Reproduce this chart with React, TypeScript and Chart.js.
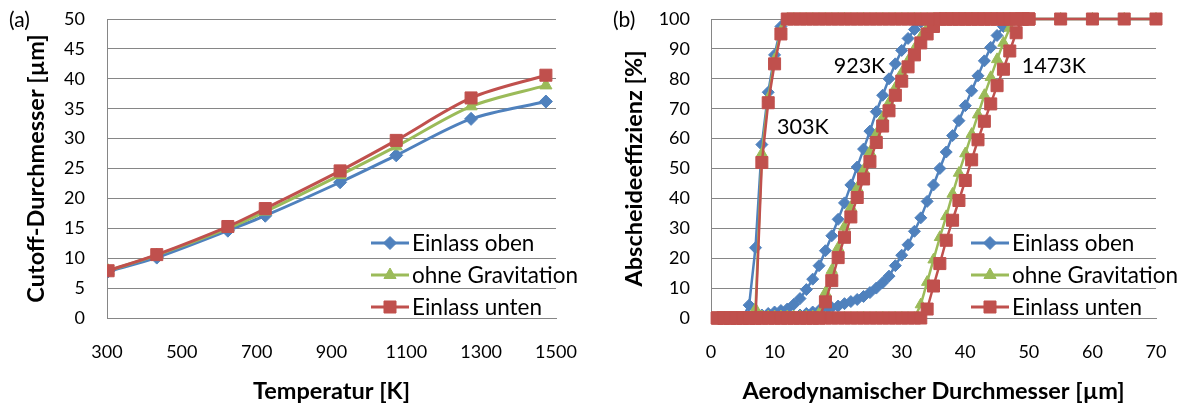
import React, { useEffect, useRef } from 'react';
import { Chart, registerables } from 'chart.js';

Chart.register(...registerables);

const FONT = 'Lato, "Open Sans", sans-serif';
const BLUE = '#4F81BD';
const GREEN = '#9BBB59';
const RED = '#C0504D';
const GRID = '#868686';
const TEXT = '#000000';

const SERIES_LABELS = ['Einlass oben', 'ohne Gravitation', 'Einlass unten'];

// ---------- Panel (a): cutoff diameter vs temperature ----------
const TEMPS_K = [303, 433, 623, 723, 923, 1073, 1273, 1473];
const CUTOFF_OBEN = [7.8, 10.1, 14.6, 17.1, 22.7, 27.2, 33.3, 36.2];
const CUTOFF_OHNE = [7.9, 10.5, 15.0, 17.8, 23.9, 28.7, 35.4, 38.9];
const CUTOFF_UNTEN = [7.9, 10.6, 15.3, 18.3, 24.6, 29.7, 36.8, 40.6];

// ---------- Panel (b): separation efficiency vs aerodynamic diameter ----------
const D_GRID = [
  1, 2, 3, 4, 5, 6, 7, 8, 9, 10,
  11, 12, 13, 14, 15, 16, 17, 18, 19, 20,
  21, 22, 23, 24, 25, 26, 27, 28, 29, 30,
  31, 32, 33, 34, 35, 36, 37, 38, 39, 40,
  41, 42, 43, 44, 45, 46, 47, 48, 49, 50,
];
const D_GRID_303 = [
  1, 2, 3, 4, 5, 6, 7, 8, 9, 10,
  11, 12, 13, 14, 15, 16, 17, 18, 19, 20,
  21, 22, 23, 24, 25, 26, 27, 28, 29, 30,
  31, 32, 33, 34, 35, 36, 37, 38, 39, 40,
  41, 42, 43, 44, 45, 46, 47, 48, 49, 50,
  55, 60, 65, 70,
];

const OBEN_303 = [
  0, 0, 0, 0, 0, 4.3, 23.5, 58, 75.5, 88,
  97.5, 100, 100, 100, 100, 100, 100, 100, 100, 100,
  100, 100, 100, 100, 100, 100, 100, 100, 100, 100,
  100, 100, 100, 100, 100, 100, 100, 100, 100, 100,
  100, 100, 100, 100, 100, 100, 100, 100, 100, 100,
  100, 100, 100, 100,
];
const OHNE_303 = [
  0, 0, 0, 0, 0, 0, 3, 55, 73.5, 86.5,
  96, 100, 100, 100, 100, 100, 100, 100, 100, 100,
  100, 100, 100, 100, 100, 100, 100, 100, 100, 100,
  100, 100, 100, 100, 100, 100, 100, 100, 100, 100,
  100, 100, 100, 100, 100, 100, 100, 100, 100, 100,
  100, 100, 100, 100,
];
const UNTEN_303 = [
  0, 0, 0, 0, 0, 0, 0, 52, 72, 85,
  95, 100, 100, 100, 100, 100, 100, 100, 100, 100,
  100, 100, 100, 100, 100, 100, 100, 100, 100, 100,
  100, 100, 100, 100, 100, 100, 100, 100, 100, 100,
  100, 100, 100, 100, 100, 100, 100, 100, 100, 100,
  100, 100, 100, 100,
];

const OBEN_923 = [
  0, 0, 0, 0, 0, 0, 0, 1, 1.5, 2,
  2.5, 3, 4.5, 6.5, 9.5, 13, 17.5, 22.5, 27.5, 33,
  38.5, 44.5, 50.5, 56.5, 62.5, 69, 74.5, 80, 85, 89.5,
  93.5, 96.5, 99, 100, 100, 100, 100, 100, 100, 100,
  100, 100, 100, 100, 100, 100, 100, 100, 100, 100,
];
const OHNE_923 = [
  0, 0, 0, 0, 0, 0, 0, 0.5, 0.5, 0.5,
  0.5, 0.5, 0.5, 0.5, 0.5, 0.5, 1.5, 8.5, 16, 23.5,
  30.5, 37, 43.5, 49.5, 55.5, 61.5, 67, 72, 77, 82,
  86, 90, 94, 97, 99.5, 100, 100, 100, 100, 100,
  100, 100, 100, 100, 100, 100, 100, 100, 100, 100,
];
const UNTEN_923 = [
  0, 0, 0, 0, 0, 0, 0, 0, 0, 0,
  0, 0, 0, 0, 0, 0, 0, 5.4, 12.5, 20.2,
  27, 33.8, 40.3, 46.5, 52.3, 58.7, 64.2, 69.3, 74.5, 79.2,
  84, 88, 92, 95, 97.5, 100, 100, 100, 100, 100,
  100, 100, 100, 100, 100, 100, 100, 100, 100, 100,
];

const OBEN_1473 = [
  0, 0, 0, 0, 0, 0, 0, 0, 0, 0,
  0, 0, 0.5, 1, 1.5, 2, 2.5, 2.8, 3.5, 4,
  4.8, 5.5, 6.2, 7.2, 8.5, 10, 11.8, 14, 17.5, 21,
  24.5, 29, 33.5, 39, 44.5, 50, 55.5, 61, 66, 71,
  76, 81, 86, 90.5, 94.5, 97.5, 99.5, 100, 100, 100,
];
const OHNE_1473 = [
  0, 0, 0, 0, 0, 0, 0, 0, 0, 0,
  0, 0, 0, 0, 0, 0, 0, 0, 0, 0,
  0, 0, 0, 0, 0, 0, 0, 0, 0, 0,
  0, 0, 4.5, 12, 19.5, 27, 34, 41.5, 48.5, 55,
  61.5, 68, 74.5, 80.5, 86.5, 92, 97, 100, 100, 100,
];
const UNTEN_1473 = [
  0, 0, 0, 0, 0, 0, 0, 0, 0, 0,
  0, 0, 0, 0, 0, 0, 0, 0, 0, 0,
  0, 0, 0, 0, 0, 0, 0, 0, 0, 0,
  0, 0, 0, 3, 10.7, 18.2, 26, 32.7, 39.3, 46,
  52.9, 59.6, 65.8, 71.6, 77.7, 83.2, 89.3, 95.4, 100, 100,
];

const TEMP_LABELS = ['303K', '923K', '1473K'];
const TEMP_LABEL_X = [10.4, 19.3, 48.9];
const TEMP_LABEL_Y = [63.7, 84.3, 84.3];

type Style = 'rect' | 'rectRot' | 'triangle';

function drawMarker(ctx: CanvasRenderingContext2D, style: Style, x: number, y: number, r: number, color: string) {
  ctx.fillStyle = color;
  ctx.strokeStyle = color;
  ctx.lineWidth = 1;
  ctx.beginPath();
  if (style === 'rect') {
    const s = r * Math.SQRT1_2;
    ctx.rect(x - s, y - s, 2 * s, 2 * s);
  } else if (style === 'rectRot') {
    ctx.moveTo(x - r, y);
    ctx.lineTo(x, y - r);
    ctx.lineTo(x + r, y);
    ctx.lineTo(x, y + r);
    ctx.closePath();
  } else {
    for (let k = 0; k < 3; k++) {
      const a = -Math.PI / 2 + (k * 2 * Math.PI) / 3;
      const px = x + Math.cos(a) * r;
      const py = y + Math.sin(a) * r;
      if (k === 0) ctx.moveTo(px, py);
      else ctx.lineTo(px, py);
    }
    ctx.closePath();
  }
  ctx.fill();
  ctx.stroke();
}

const STYLES: Style[] = ['rectRot', 'triangle', 'rect'];
const COLORS = [BLUE, GREEN, RED];

function makeOverlay(panelLabel: string, labelX: number, radii: number[], annotate: boolean) {
  return {
    id: 'overlay' + panelLabel.replace(/[()]/g, ''),
    afterDraw(chart: any) {
      const ctx: CanvasRenderingContext2D = chart.ctx;
      const area = chart.chartArea;
      ctx.save();
      ctx.fillStyle = TEXT;
      ctx.font = `21px ${FONT}`;
      ctx.textAlign = 'left';
      ctx.textBaseline = 'middle';
      ctx.fillText(panelLabel, labelX, 20);
      if (annotate) {
        const xs = chart.scales.x;
        const ys = chart.scales.y;
        ctx.font = `21.5px ${FONT}`;
        TEMP_LABELS.forEach((t, i) => {
          ctx.fillText(t, xs.getPixelForValue(TEMP_LABEL_X[i]), ys.getPixelForValue(TEMP_LABEL_Y[i]));
        });
      }
      const rows = [-75, -43, -11];
      SERIES_LABELS.forEach((lab, i) => {
        const y = area.bottom + rows[i];
        const x0 = area.right - 185;
        const x1 = area.right - 147;
        ctx.strokeStyle = COLORS[i];
        ctx.lineWidth = 3;
        ctx.beginPath();
        ctx.moveTo(x0, y);
        ctx.lineTo(x1, y);
        ctx.stroke();
        drawMarker(ctx, STYLES[i], (x0 + x1) / 2, y, radii[i], COLORS[i]);
        ctx.fillStyle = TEXT;
        ctx.font = `22.5px ${FONT}`;
        ctx.textAlign = 'left';
        ctx.textBaseline = 'middle';
        ctx.fillText(lab, area.right - 144, y + 1);
      });
      ctx.restore();
    },
  };
}

function toPoints(xs: number[], ys: number[]) {
  return xs.map((x, i) => ({ x, y: ys[i] }));
}

function baseScales(opts: {
  xMin: number; xMax: number; xStep: number; yMax: number; yStep: number;
  xTitle: string; yTitle: string; yWidth: number; yTickPad: number; yTitlePad: number;
}) {
  const tickFont = { family: FONT, size: 18 };
  const titleFont = { family: FONT, size: 23.5, weight: 'bold' as const };
  return {
    x: {
      type: 'linear' as const,
      min: opts.xMin,
      max: opts.xMax,
      ticks: {
        stepSize: opts.xStep, padding: 23, color: TEXT, font: tickFont, maxRotation: 0,
        callback: (v: any) => String(v),
      },
      grid: { display: false, drawTicks: false },
      border: { display: true, color: GRID, width: 1 },
      title: { display: true, text: opts.xTitle, color: TEXT, font: titleFont, padding: { top: 0, bottom: 1 } },
      afterFit: (s: any) => { s.height = 89; s.paddingLeft = 0; s.paddingRight = 0; },
    },
    y: {
      min: 0,
      max: opts.yMax,
      ticks: { stepSize: opts.yStep, padding: opts.yTickPad, color: TEXT, font: tickFont, callback: (v: any) => String(v) },
      grid: { display: true, color: GRID, lineWidth: 1, drawTicks: false },
      border: { display: true, color: GRID, width: 1 },
      title: { display: true, text: opts.yTitle, color: TEXT, font: titleFont, padding: { top: opts.yTitlePad, bottom: 0 } },
      afterFit: (s: any) => { s.width = opts.yWidth; s.paddingTop = 0; s.paddingBottom = 0; },
    },
  };
}

function PanelA() {
  const ref = useRef<HTMLCanvasElement>(null);
  useEffect(() => {
    if (!ref.current) return;
    const series = [CUTOFF_OBEN, CUTOFF_OHNE, CUTOFF_UNTEN];
    const radii = [6.5, 7, 8.5];
    const chart = new Chart(ref.current, {
      type: 'line',
      data: {
        datasets: series.map((vals, i) => ({
          label: SERIES_LABELS[i],
          data: toPoints(TEMPS_K, vals),
          borderColor: COLORS[i],
          backgroundColor: COLORS[i],
          borderWidth: 3,
          tension: 0.3,
          pointStyle: STYLES[i],
          pointRadius: radii[i],
          pointBorderWidth: 1,
          pointBorderColor: COLORS[i],
          pointBackgroundColor: COLORS[i],
          order: 2 - i,
        })),
      },
      options: {
        responsive: false,
        animation: false,
        layout: { padding: { top: 19, right: 44, bottom: 0, left: 0 } },
        plugins: { legend: { display: false }, tooltip: { enabled: false } },
        scales: baseScales({
          xMin: 300, xMax: 1500, xStep: 200, yMax: 50, yStep: 5,
          xTitle: 'Temperatur [K]', yTitle: 'Cutoff-Durchmesser [µm]',
          yWidth: 107, yTickPad: 22, yTitlePad: 22,
        }) as any,
      },
      plugins: [makeOverlay('(a)', 9, [6.5, 7, 8.5], false)],
    });
    return () => chart.destroy();
  }, []);
  return <canvas ref={ref} width={600} height={407} style={{ position: 'absolute', left: 0, top: 0 }} />;
}

function PanelB() {
  const ref = useRef<HTMLCanvasElement>(null);
  useEffect(() => {
    if (!ref.current) return;
    const groups = [
      { xs: D_GRID_303, vals: [OBEN_303, OHNE_303, UNTEN_303] },
      { xs: D_GRID, vals: [OBEN_923, OHNE_923, UNTEN_923] },
      { xs: D_GRID, vals: [OBEN_1473, OHNE_1473, UNTEN_1473] },
    ];
    const radii = [6, 6.5, 8.5];
    const datasets: any[] = [];
    groups.forEach((g, gi) => {
      g.vals.forEach((vals, i) => {
        datasets.push({
          label: SERIES_LABELS[i] + ' ' + TEMP_LABELS[gi],
          data: toPoints(g.xs, vals),
          borderColor: COLORS[i],
          backgroundColor: COLORS[i],
          borderWidth: 2.5,
          tension: 0,
          pointStyle: STYLES[i],
          pointRadius: radii[i],
          pointBorderWidth: 1,
          pointBorderColor: COLORS[i],
          pointBackgroundColor: COLORS[i],
          clip: false,
          order: 2 - i,
        });
      });
    });
    const chart = new Chart(ref.current, {
      type: 'line',
      data: { datasets },
      options: {
        responsive: false,
        animation: false,
        layout: { padding: { top: 19, right: 33, bottom: 0, left: 0 } },
        plugins: { legend: { display: false }, tooltip: { enabled: false } },
        scales: baseScales({
          xMin: 0, xMax: 70, xStep: 10, yMax: 100, yStep: 10,
          xTitle: 'Aerodynamischer Durchmesser [µm]', yTitle: 'Abscheideeffizienz [%]',
          yWidth: 111, yTickPad: 21, yTitlePad: 20,
        }) as any,
      },
      plugins: [makeOverlay('(b)', 13, [6.5, 7, 8.5], true)],
    });
    return () => chart.destroy();
  }, []);
  return <canvas ref={ref} width={589} height={407} style={{ position: 'absolute', left: 600, top: 0 }} />;
}

export default function App() {
  return (
    <div style={{ position: 'absolute', left: 0, top: 0, width: 1189, height: 407, background: '#ffffff', overflow: 'hidden' }}>
      <PanelA />
      <PanelB />
    </div>
  );
}
